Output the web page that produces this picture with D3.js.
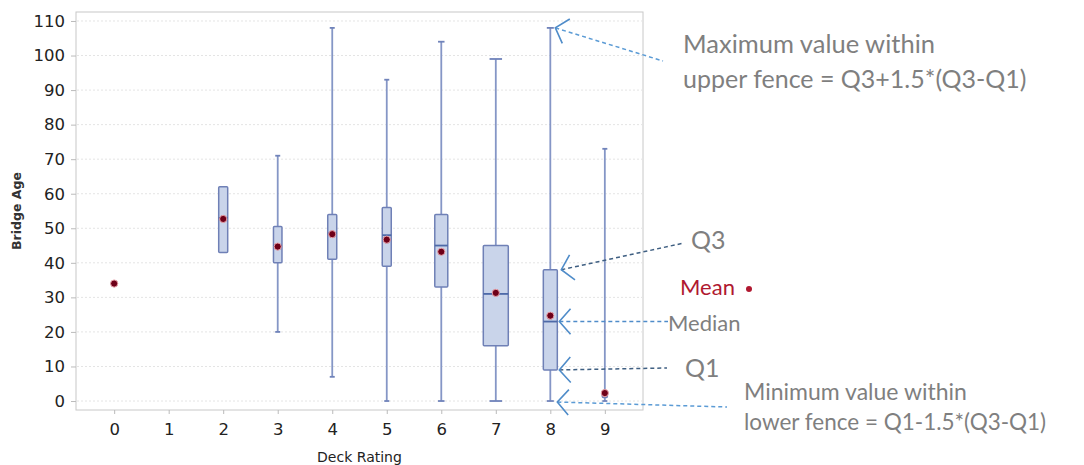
<!DOCTYPE html>
<html>
<head>
<meta charset="utf-8">
<script src="https://cdn.jsdelivr.net/npm/d3@7"></script>
<style>
  body { margin: 0; background: #fff; }
  svg { display: block; }
  .tick text { font-family: 'DejaVu Sans', Verdana, sans-serif; fill: #222; }
  .note { font-family: Lato, 'Open Sans', sans-serif; fill: #7f7f7f; }
</style>
</head>
<body>
<svg></svg>
<script>
// deck rating categories and box statistics (bridge age, years)
const ratings = [0, 1, 2, 3, 4, 5, 6, 7, 8, 9];
const whiskerLow = [34, null, 43, 20, 7, 0, 0, 0, 0, 0];
const q1 = [34, null, 43, 40, 41, 39, 33, 16, 9, 1];
const medians = [34, null, 53, 45, 48.5, 48, 45, 31, 23, 2];
const q3 = [34, null, 62, 50.5, 54, 56, 54, 45, 38, 2.5];
const whiskerHigh = [34, null, 62, 71, 108, 93, 104, 99, 108, 73];
const means = [34, null, 52.7, 44.7, 48.3, 46.7, 43.2, 31.3, 24.7, 2.3];
// relative share of bridges per rating (box width follows it)
const shares = [0, 0, 9, 8.5, 9, 9, 13, 25, 14, 5];
const yTicks = [0, 10, 20, 30, 40, 50, 60, 70, 80, 90, 100, 110];

document.addEventListener('DOMContentLoaded', function () {
  drawChart();
});

function drawChart() {
  const width = 1084;
  const height = 465;
  const svg = d3.select('svg').attr('width', width).attr('height', height);

  const left = 76, right = 643, top = 12, bottom = 410;

  const x = d3.scalePoint().domain(ratings).range([left, right]).padding(0.7);
  const y = d3.scaleLinear().domain([-2.6, 112.6]).range([bottom, top]);
  const w = d3.scaleLinear().domain([0, 25]).range([0, 25]);

  const boxes = ratings.map((r, i) => ({
    rating: r,
    lo: whiskerLow[i],
    q1: q1[i],
    med: medians[i],
    q3: q3[i],
    hi: whiskerHigh[i],
    mean: means[i],
    share: shares[i],
  }));

  // grid lines
  svg.append('g')
    .selectAll('line')
    .data(yTicks)
    .enter()
    .append('line')
    .attr('x1', left + 1)
    .attr('x2', right - 1)
    .attr('y1', (d) => y(d))
    .attr('y2', (d) => y(d))
    .attr('stroke', '#e4e4e4')
    .attr('stroke-dasharray', '2,2');

  // frame
  svg.append('rect')
    .attr('x', left)
    .attr('y', top)
    .attr('width', right - left)
    .attr('height', bottom - top)
    .attr('fill', 'none')
    .attr('stroke', '#c8c8c8');

  // axes
  const yAxis = svg.append('g')
    .attr('transform', `translate(${left},0)`)
    .call(d3.axisLeft(y).tickValues(yTicks).tickSize(5).tickPadding(6));
  yAxis.select('.domain').remove();
  yAxis.selectAll('.tick line').attr('stroke', '#bbb');
  yAxis.selectAll('.tick text').attr('font-size', 16.5);

  const xAxis = svg.append('g')
    .attr('transform', `translate(0,${bottom})`)
    .call(d3.axisBottom(x).tickSize(4).tickPadding(9));
  xAxis.select('.domain').remove();
  xAxis.selectAll('.tick line').attr('stroke', '#bbb');
  xAxis.selectAll('.tick text').attr('font-size', 16.5);

  // axis titles
  svg.append('text')
    .attr('x', (left + right) / 2)
    .attr('y', 462)
    .attr('text-anchor', 'middle')
    .attr('font-family', 'DejaVu Sans, Verdana, sans-serif')
    .attr('font-size', 14)
    .attr('fill', '#222')
    .text('Deck Rating');

  svg.append('text')
    .attr('transform', `translate(21,${(top + bottom) / 2}) rotate(-90)`)
    .attr('text-anchor', 'middle')
    .attr('font-family', 'DejaVu Sans, Verdana, sans-serif')
    .attr('font-size', 12.5)
    .attr('font-weight', 'bold')
    .attr('fill', '#333')
    .text('Bridge Age');

  const shown = boxes.filter((d) => d.share > 0);

  const g = svg.append('g')
    .selectAll('.box')
    .data(shown)
    .enter()
    .append('g')
    .attr('class', 'box');

  // whiskers
  g.append('line')
    .attr('x1', (d) => x(d.rating))
    .attr('x2', (d) => x(d.rating))
    .attr('y1', (d) => y(d.hi))
    .attr('y2', (d) => y(d.lo))
    .attr('stroke', '#8596c6')
    .attr('stroke-width', 1.8);

  // caps
  ['hi', 'lo'].forEach((k) => {
    g.filter((d) => d[k] !== d.q1 && d[k] !== d.q3)
      .append('line')
      .attr('x1', (d) => x(d.rating) - Math.max(2.5, w(d.share) / 4))
      .attr('x2', (d) => x(d.rating) + Math.max(2.5, w(d.share) / 4))
      .attr('y1', (d) => y(d[k]))
      .attr('y2', (d) => y(d[k]))
      .attr('stroke', '#7083ba')
      .attr('stroke-width', 1.8);
  });

  // boxes
  g.append('rect')
    .attr('x', (d) => x(d.rating) - w(d.share) / 2)
    .attr('y', (d) => y(d.q3))
    .attr('width', (d) => w(d.share))
    .attr('height', (d) => Math.max(1, y(d.q1) - y(d.q3)))
    .attr('rx', 1)
    .attr('fill', '#c9d4ea')
    .attr('stroke', '#6f80b6')
    .attr('stroke-width', 1.5);

  // median
  g.append('line')
    .attr('x1', (d) => x(d.rating) - w(d.share) / 2)
    .attr('x2', (d) => x(d.rating) + w(d.share) / 2)
    .attr('y1', (d) => y(d.med))
    .attr('y2', (d) => y(d.med))
    .attr('stroke', '#4e6aa8')
    .attr('stroke-width', 1.8);

  // mean markers
  svg.append('g')
    .selectAll('circle')
    .data(boxes.filter((d) => d.mean !== null))
    .enter()
    .append('circle')
    .attr('cx', (d) => x(d.rating))
    .attr('cy', (d) => y(d.mean))
    .attr('r', 3.6)
    .attr('fill', '#6e0018')
    .attr('stroke', '#e8a0a8')
    .attr('stroke-width', 1);

  // annotations pointing at rating 8
  const b = boxes[8];
  const bx = x(b.rating);
  const half = w(b.share) / 2;
  const notes = [
    { tip: [bx + 5, y(b.hi)], end: [663, 61], color: '#5b9bd5' },
    { tip: [bx + half + 4, y(b.q3)], end: [684, 243], color: '#3f5f82' },
    { tip: [bx + half + 2, y(b.med)], end: [668, y(b.med)], color: '#4f8cc9' },
    { tip: [bx + half + 2, y(b.q1)], end: [667, 368], color: '#3f5f82' },
    { tip: [bx + 7, y(b.lo) + 1], end: [727, 407], color: '#5b9bd5' },
  ];

  const ann = svg.append('g');
  notes.forEach((n) => {
    const [tx, ty] = n.tip;
    const [ex, ey] = n.end;
    const a = Math.atan2(ey - ty, ex - tx);
    const len = 17, spread = 0.85;
    const p1 = [tx + len * Math.cos(a - spread), ty + len * Math.sin(a - spread)];
    const p2 = [tx + len * Math.cos(a + spread), ty + len * Math.sin(a + spread)];

    ann.append('line')
      .attr('x1', tx).attr('y1', ty)
      .attr('x2', ex).attr('y2', ey)
      .attr('stroke', n.color)
      .attr('stroke-width', 1.5)
      .attr('stroke-dasharray', '4,3');

    ann.append('path')
      .attr('d', `M${p1[0]},${p1[1]}L${tx},${ty}L${p2[0]},${p2[1]}`)
      .attr('fill', 'none')
      .attr('stroke', '#4f8cc9')
      .attr('stroke-width', 1.6);
  });

  const label = (tx, ty, size, str, fill) =>
    svg.append('text')
      .attr('class', 'note')
      .attr('x', tx)
      .attr('y', ty)
      .attr('font-size', size)
      .style('fill', fill || '#7f7f7f')
      .text(str);

  label(683, 53, 25.5, 'Maximum value within');
  label(683, 88, 25, 'upper fence = Q3+1.5*(Q3-Q1)');
  label(691, 249, 25, 'Q3');
  label(680, 295, 22, 'Mean', '#b01830');
  label(668, 331, 22, 'Median');
  label(685, 377, 25, 'Q1');
  label(744, 400, 23, 'Minimum value within');
  label(744, 430, 22.5, 'lower fence = Q1-1.5*(Q3-Q1)');

  svg.append('circle')
    .attr('cx', 749)
    .attr('cy', 289)
    .attr('r', 3)
    .attr('fill', '#b01830');
}
</script>
</body>
</html>
